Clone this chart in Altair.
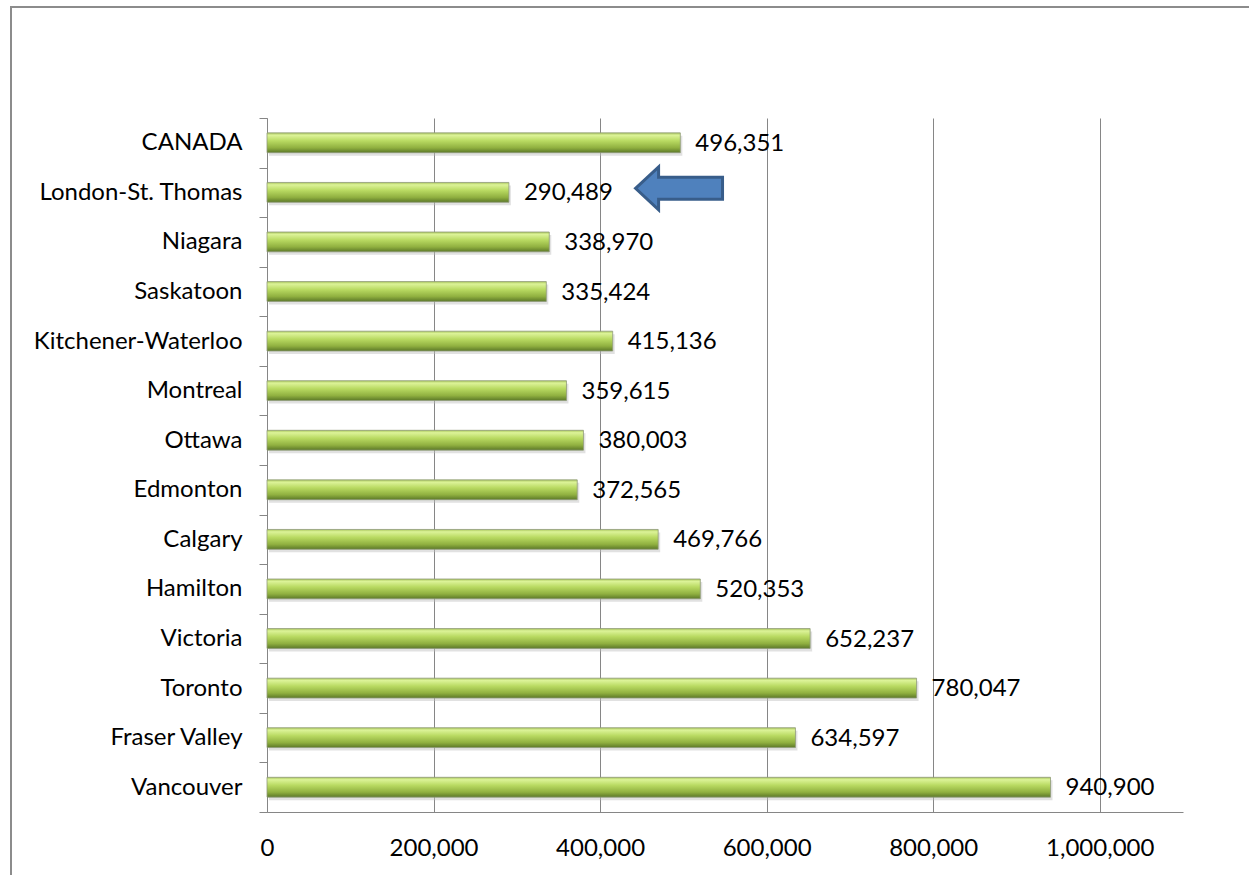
import altair as alt
import pandas as pd

categories = ["CANADA", "London-St. Thomas", "Niagara", "Saskatoon", "Kitchener-Waterloo",
              "Montreal", "Ottawa", "Edmonton", "Calgary", "Hamilton", "Victoria",
              "Toronto", "Fraser Valley", "Vancouver"]
values = [496351, 290489, 338970, 335424, 415136, 359615, 380003, 372565,
          469766, 520353, 652237, 780047, 634597, 940900]
x_ticks = [0, 200000, 400000, 600000, 800000, 1000000]

# arrow annotation pointing at London-St. Thomas
arrow_x = [494800]
arrow_row = ["London-St. Thomas"]

df = pd.DataFrame({"region": categories, "price": values})
arrow_df = pd.DataFrame({"price": arrow_x, "region": arrow_row})

FONT = "Lato"
FS = 24
GRAY = "#868686"

y_scale = alt.Scale(paddingInner=0, paddingOuter=0)
y_enc = alt.Y("region:N", sort=categories, scale=y_scale,
              axis=alt.Axis(title=None, tickBand="extent", tickSize=8, tickColor=GRAY,
                            domainColor=GRAY, labelFontSize=FS, labelFont=FONT,
                            labelColor="#000000", labelPadding=17, grid=False,
                            labelLimit=300))
x_scale = alt.Scale(domain=[0, 1100000], nice=False)
x_enc = alt.X("price:Q", scale=x_scale,
              axis=alt.Axis(title=None, values=x_ticks, format=",.0f", grid=True,
                            gridColor=GRAY, gridWidth=1, ticks=False, domainColor=GRAY,
                            labelFontSize=FS, labelFont=FONT, labelColor="#000000",
                            labelPadding=24, labelFlush=False))

base = alt.Chart(df)

shadow = base.mark_bar(height={"band": 0.4}, color="#bdbdbd", opacity=0.45,
                       yOffset=3, xOffset=2).encode(x=x_enc, y=y_enc)

bars = base.mark_bar(
    height={"band": 0.4},
    stroke="#8f9a7a", strokeWidth=0.8,
    color={"gradient": "linear", "x1": 0, "y1": 0, "x2": 0, "y2": 1,
           "stops": [{"offset": 0, "color": "#a9c65c"},
                     {"offset": 0.12, "color": "#dcf398"},
                     {"offset": 0.4, "color": "#b9da62"},
                     {"offset": 0.75, "color": "#90b040"},
                     {"offset": 1, "color": "#5c7828"}]}
).encode(x=x_enc, y=y_enc)

labels = base.mark_text(align="left", baseline="middle", dx=15, dy=1, fontSize=FS,
                        font=FONT, color="#000000").encode(
    x=x_enc, y=y_enc, text=alt.Text("price:Q", format=","))

arrow_path = ("M -1 0 L -0.47 -0.494 L -0.47 -0.253 L 1 -0.253 L 1 0.253 "
              "L -0.47 0.253 L -0.47 0.494 Z")
arrow = alt.Chart(arrow_df).mark_point(
    shape=arrow_path, size=7569, filled=True, fill="#4f81bd", stroke="#385d8a",
    strokeWidth=3, opacity=1, yOffset=-4
).encode(x=x_enc, y=y_enc)

frame_df = pd.DataFrame({"a": [0]})
top_line = alt.Chart(frame_df).mark_rule(color="#8c8c8c", strokeWidth=2).encode(
    x=alt.value(-257), x2=alt.value(990), y=alt.value(-111))
left_line = alt.Chart(frame_df).mark_rule(color="#8c8c8c", strokeWidth=2).encode(
    x=alt.value(-256), y=alt.value(-112), y2=alt.value(760))

chart = alt.layer(shadow, bars, labels, arrow, top_line, left_line).properties(
    width=916, height=694, autosize="none",
    padding={"left": 267, "top": 118, "right": 66, "bottom": 63},
    background="white"
).configure_view(stroke=None)

chart.save("out.html", embed_options={"renderer": "svg", "actions": False})
